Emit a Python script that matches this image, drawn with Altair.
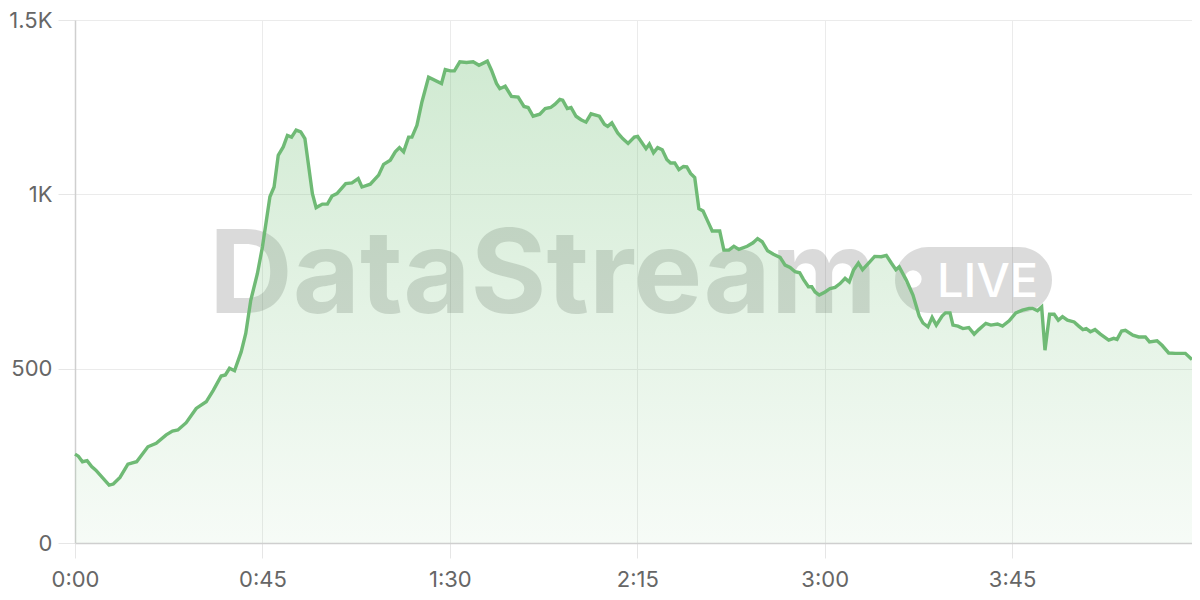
import altair as alt
import pandas as pd

# Elapsed time in minutes and viewer counts
minutes = [0, 0.8, 1.8, 2.9, 4.0, 5.0, 8.2, 9.2, 10.8, 12.7, 14.8, 17.5, 19.5, 21.9, 23.4, 24.7,
           26.7, 29.1, 31.5, 33.2, 35.1, 36.1, 37.1, 38.3, 39.9, 41.0, 42.2, 43.8, 45.0, 46.2,
           46.8, 47.8, 48.8, 50.0, 51.0, 52.0, 53.1, 54.2, 55.2, 57.0, 57.9, 59.4, 60.6, 61.7,
           62.9, 65.0, 66.5, 68.0, 68.9, 70.9, 72.9, 74.1, 75.7, 76.9, 77.9, 78.9, 80.1, 80.9,
           82.1, 83.3, 84.9, 88.0, 88.9, 90.1, 91.1, 92.4, 94.0, 95.6, 97.0, 99.0, 100.0, 101.2,
           102.0, 103.3, 104.8, 106.4, 107.8, 108.8, 110.0, 111.6, 112.9, 114.2, 115.2, 116.4,
           117.1, 118.2, 119.1, 120.3, 121.5, 122.7, 123.9, 125.9, 127.1, 127.9, 128.9, 130.3,
           131.5, 132.8, 134.3, 135.1, 137.1, 137.9, 138.9, 139.9, 141.0, 142.1, 143.0, 144.0,
           145.0, 146.1, 146.9, 147.8, 148.8, 149.8, 150.8, 151.8, 153.0, 154.8, 155.8, 157.0,
           158.2, 159.4, 161.4, 162.8, 163.9, 165.0, 166.3, 167.7, 169.3, 170.5, 171.7, 172.9,
           174.0, 174.9, 176.1, 176.9, 177.7, 178.7, 180.1, 181.3, 182.5, 183.7, 184.9, 185.9,
           186.9, 188.1, 189.1, 190.5, 192.0, 193.6, 194.8, 196.0, 197.1, 197.9, 199.6, 201.2,
           202.7, 203.6, 204.8, 205.8, 206.8, 208.2, 209.0, 210.1, 210.8, 212.0, 213.2, 214.6,
           215.9, 217.0, 218.7, 219.9, 221.5, 222.7, 224.3, 225.9, 227.5, 229.1, 229.9, 231.1,
           232.1, 232.9, 234.0, 235.1, 236.1, 237.1, 238.3, 239.9, 241.0, 242.0, 242.8, 243.8,
           244.9, 246.2, 248.2, 249.4, 250.2, 251.3, 252.2, 254.0, 255.4, 257.0, 258.0, 259.8,
           261.0, 262.6, 264.2, 266.6, 268.2]
viewers = [255, 249, 233, 236, 219, 209, 166, 169, 188, 226, 233, 276, 286, 310, 321, 324,
           345, 386, 405, 438, 479, 482, 501, 494, 548, 601, 696, 773, 849, 945,
           993, 1021, 1112, 1136, 1169, 1164, 1184, 1179, 1160, 1002, 962, 972, 972, 995,
           1002, 1031, 1033, 1045, 1021, 1029, 1055, 1086, 1098, 1122, 1134, 1122, 1164, 1164,
           1198, 1265, 1336, 1318, 1358, 1354, 1354, 1380, 1378, 1380, 1370, 1382, 1356, 1318,
           1303, 1310, 1281, 1279, 1252, 1249, 1224, 1230, 1246, 1249, 1258, 1272,
           1270, 1246, 1249, 1224, 1214, 1207, 1231, 1224, 1201, 1195, 1205, 1176,
           1160, 1146, 1164, 1166, 1131, 1144, 1119, 1134, 1128, 1100, 1090, 1090,
           1071, 1080, 1079, 1060, 1048, 959, 952, 926, 895, 895, 840, 840,
           851, 842, 851, 861, 873, 864, 838, 828, 819, 797, 790, 778,
           775, 756, 735, 735, 720, 711, 720, 730, 733, 744, 759, 749,
           782, 803, 784, 802, 822, 821, 825, 803, 784, 792, 754, 711,
           651, 631, 620, 647, 625, 651, 660, 660, 625, 622, 615, 618,
           599, 612, 630, 625, 628, 622, 637, 660, 668, 673, 673, 666,
           677, 553, 656, 656, 639, 649, 639, 634, 622, 612, 615, 606,
           612, 599, 582, 587, 584, 608, 610, 596, 591, 591, 577, 580,
           567, 545, 544, 544, 526]

x_ticks = [0, 45, 90, 135, 180, 225]
y_ticks = [0, 500, 1000, 1500]
watermark = "DataStream"
badge = "LIVE"

df = pd.DataFrame({"t": minutes, "v": viewers})
one = pd.DataFrame({"a": [0]})

FONT = "Inter"
LINE = "#6fba75"

x_enc = alt.X(
    "t:Q",
    scale=alt.Scale(domain=[0, max(minutes)], nice=False, zero=False),
    axis=alt.Axis(
        values=x_ticks,
        labelExpr="floor(datum.value/60) + ':' + (datum.value % 60 < 10 ? '0' : '') + (datum.value % 60)",
        title=None,
        tickSize=15,
        labelPadding=11,
        labelFlush=False,
        grid=True,
    ),
)
y_enc = alt.Y(
    "v:Q",
    scale=alt.Scale(domain=[0, 1500], nice=False),
    axis=alt.Axis(
        values=y_ticks,
        labelExpr="datum.value >= 1000 ? format(datum.value/1000, '~g') + 'K' : format(datum.value, 'd')",
        title=None,
        tickSize=17,
        labelPadding=6,
        labelFlush=False,
        grid=True,
    ),
)

pill = alt.Chart(one).mark_rect(cornerRadius=33, color="#000000", opacity=0.14).encode(
    x=alt.value(820), x2=alt.value(977), y=alt.value(227), y2=alt.value(293)
)
dot = alt.Chart(one).mark_circle(color="#ffffff", opacity=1, size=300).encode(
    x=alt.value(838), y=alt.value(259)
)
live = alt.Chart(one).mark_text(
    text=badge, font=FONT, fontSize=47, fontWeight=500, color="#ffffff",
    align="left", baseline="alphabetic"
).encode(x=alt.value(862), y=alt.value(277))
word = alt.Chart(one).mark_text(
    text=watermark, font=FONT, fontSize=116, fontWeight=700, color="#000000",
    opacity=0.14, align="left", baseline="alphabetic"
).encode(x=alt.value(134), y=alt.value(293))

area = alt.Chart(df).mark_area(
    interpolate="linear",
    color=alt.Gradient(
        gradient="linear", x1=0, y1=0, x2=0, y2=1,
        stops=[alt.GradientStop(color="rgba(110,190,115,0.32)", offset=0),
               alt.GradientStop(color="rgba(110,190,115,0.06)", offset=1)],
    ),
).encode(x=x_enc, y=y_enc)

line = alt.Chart(df).mark_line(color=LINE, strokeWidth=3.4, interpolate="linear").encode(
    x=alt.X("t:Q"), y=alt.Y("v:Q")
)

chart = (
    alt.layer(pill, dot, live, word, area, line)
    .properties(
        width=1117,
        height=523,
        padding={"left": 67, "top": 12, "right": 0, "bottom": 49},
        autosize=alt.AutoSizeParams(type="none"),
    )
    .configure_view(stroke=None)
    .configure_axis(
        gridColor="#ebebeb",
        gridWidth=1,
        tickColor="#e6e6e6",
        domainColor="#cfcfcf",
        domainWidth=1.5,
        labelFont=FONT,
        labelFontSize=22,
        labelColor="#666666",
    )
)

chart.save("out.html", embed_options={"renderer": "svg", "actions": False})
